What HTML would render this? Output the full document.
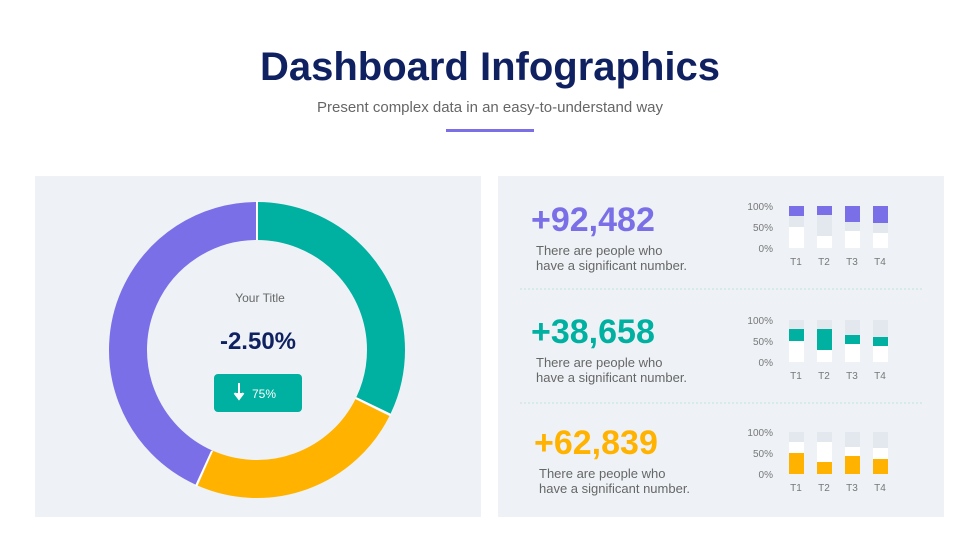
<!DOCTYPE html>
<html><head><meta charset="utf-8"><style>
html,body{margin:0;padding:0;background:#fff;}
svg{display:block;font-family:"Liberation Sans",sans-serif;}
</style></head><body>
<svg width="980" height="551" viewBox="0 0 980 551" xmlns="http://www.w3.org/2000/svg">
<rect width="980" height="551" fill="#fff"/>
<text x="490" y="80" text-anchor="middle" font-size="40" font-weight="bold" fill="#0f2160">Dashboard Infographics</text>
<text x="490" y="112" text-anchor="middle" font-size="15" fill="#666">Present complex data in an easy-to-understand way</text>
<rect x="446" y="129" width="88" height="3" fill="#7b6fe8"/>
<rect x="35" y="176" width="446" height="341" fill="#eef2f6"/>
<rect x="498" y="176" width="446" height="341" fill="#eef2f6"/>
<!-- donut -->
<g transform="translate(257,350)" fill="none" stroke-width="38">
<circle r="129" stroke="#00b0a0" stroke-dasharray="260 1000" transform="rotate(-90)"/>
<circle r="129" stroke="#ffb300" stroke-dasharray="196 1000" transform="rotate(26.5)"/>
<circle r="129" stroke="#7b6fe8" stroke-dasharray="351 1000" transform="rotate(114)"/>
<g stroke="#fff" stroke-width="2">
<line x1="0" y1="-110" x2="0" y2="-149"/>
<line x1="99" y1="48" x2="134" y2="65"/>
<line x1="-45" y1="101" x2="-61" y2="136"/>
</g>
</g>
<text x="260" y="302" text-anchor="middle" font-size="12" fill="#666">Your Title</text>
<text x="258" y="349" text-anchor="middle" font-size="24" font-weight="bold" fill="#0f2160">-2.50%</text>
<rect x="214" y="374" width="88" height="38" rx="4" fill="#00b0a0"/>
<path d="M239 383v14M234.5 393l4.5 6 4.5-6" stroke="#fff" stroke-width="2" fill="#fff"/>
<text x="252" y="398" font-size="12" fill="#fff">75%</text>
<!-- separators -->
<line x1="520" y1="289" x2="922" y2="289" stroke="#bfe3dd" stroke-dasharray="2 2"/>
<line x1="520" y1="403" x2="922" y2="403" stroke="#bfe3dd" stroke-dasharray="2 2"/>
<!-- rows -->
<g font-size="13" fill="#666">
<text x="531" y="231" font-size="34" font-weight="bold" fill="#7b6fe8">+92,482</text>
<text x="536" y="255">There are people who</text>
<text x="536" y="270">have a significant number.</text>
<text x="531" y="343" font-size="34" font-weight="bold" fill="#00b0a0">+38,658</text>
<text x="536" y="367">There are people who</text>
<text x="536" y="382">have a significant number.</text>
<text x="534" y="454" font-size="34" font-weight="bold" fill="#ffb300">+62,839</text>
<text x="539" y="478">There are people who</text>
<text x="539" y="493">have a significant number.</text>
</g>
<!-- charts -->
<g font-size="10" fill="#777" text-anchor="end">
<text x="773" y="210">100%</text><text x="773" y="231">50%</text><text x="773" y="252">0%</text>
<text x="773" y="324">100%</text><text x="773" y="345">50%</text><text x="773" y="366">0%</text>
<text x="773" y="436">100%</text><text x="773" y="457">50%</text><text x="773" y="478">0%</text>
</g>
<g font-size="10" fill="#777" text-anchor="middle">
<text x="796" y="265">T1</text><text x="824" y="265">T2</text><text x="852" y="265">T3</text><text x="880" y="265">T4</text>
<text x="796" y="379">T1</text><text x="824" y="379">T2</text><text x="852" y="379">T3</text><text x="880" y="379">T4</text>
<text x="796" y="491">T1</text><text x="824" y="491">T2</text><text x="852" y="491">T3</text><text x="880" y="491">T4</text>
</g>
<!-- chart1 -->
<g>
<rect x="789" y="206" width="15" height="42" fill="#fff"/><rect x="817" y="206" width="15" height="42" fill="#fff"/><rect x="845" y="206" width="15" height="42" fill="#fff"/><rect x="873" y="206" width="15" height="42" fill="#fff"/>
<rect x="789" y="216" width="15" height="11" fill="#e2e8ee"/><rect x="817" y="215" width="15" height="21" fill="#e2e8ee"/><rect x="845" y="222" width="15" height="9" fill="#e2e8ee"/><rect x="873" y="223" width="15" height="10" fill="#e2e8ee"/>
<rect x="789" y="206" width="15" height="10" fill="#7b6fe8"/><rect x="817" y="206" width="15" height="9" fill="#7b6fe8"/><rect x="845" y="206" width="15" height="16" fill="#7b6fe8"/><rect x="873" y="206" width="15" height="17" fill="#7b6fe8"/>
</g>
<!-- chart2 -->
<g>
<rect x="789" y="320" width="15" height="42" fill="#fff"/><rect x="817" y="320" width="15" height="42" fill="#fff"/><rect x="845" y="320" width="15" height="42" fill="#fff"/><rect x="873" y="320" width="15" height="42" fill="#fff"/>
<rect x="789" y="320" width="15" height="9" fill="#e2e8ee"/><rect x="817" y="320" width="15" height="9" fill="#e2e8ee"/><rect x="845" y="320" width="15" height="15" fill="#e2e8ee"/><rect x="873" y="320" width="15" height="17" fill="#e2e8ee"/>
<rect x="789" y="329" width="15" height="12" fill="#00b0a0"/><rect x="817" y="329" width="15" height="21" fill="#00b0a0"/><rect x="845" y="335" width="15" height="9" fill="#00b0a0"/><rect x="873" y="337" width="15" height="9" fill="#00b0a0"/>
</g>
<!-- chart3 -->
<g>
<rect x="789" y="432" width="15" height="42" fill="#fff"/><rect x="817" y="432" width="15" height="42" fill="#fff"/><rect x="845" y="432" width="15" height="42" fill="#fff"/><rect x="873" y="432" width="15" height="42" fill="#fff"/>
<rect x="789" y="432" width="15" height="10" fill="#e2e8ee"/><rect x="817" y="432" width="15" height="10" fill="#e2e8ee"/><rect x="845" y="432" width="15" height="15" fill="#e2e8ee"/><rect x="873" y="432" width="15" height="16" fill="#e2e8ee"/>
<rect x="789" y="453" width="15" height="21" fill="#ffb300"/><rect x="817" y="462" width="15" height="12" fill="#ffb300"/><rect x="845" y="456" width="15" height="18" fill="#ffb300"/><rect x="873" y="459" width="15" height="15" fill="#ffb300"/>
</g>
</svg>
</body></html>
